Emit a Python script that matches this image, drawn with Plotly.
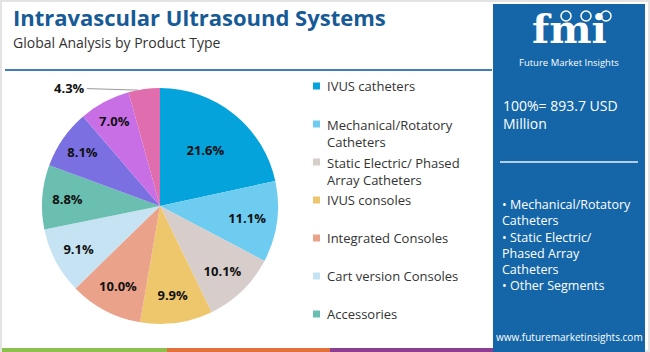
import math
import plotly.graph_objects as go

W, H = 650, 352

# ---- data ----
categories = ["IVUS catheters", "Mechanical/Rotatory Catheters", "Static Electric/ Phased Array Catheters",
              "IVUS consoles", "Integrated Consoles", "Cart version Consoles", "Accessories",
              "Segment 8", "Segment 9", "Segment 10"]
shares = [21.6, 11.1, 10.1, 9.9, 10.0, 9.1, 8.8, 8.1, 7.0, 4.3]
colors = ["#05A3DB", "#6DCCF0", "#D7CECC", "#EEC76C", "#EBA28A", "#C6E3F3", "#6ABFB1",
          "#7A70E1", "#C96FE6", "#E06EAE"]
legend_labels = ["IVUS catheters", "Mechanical/Rotatory<br>Catheters", "Static Electric/ Phased<br>Array Catheters",
                 "IVUS consoles", "Integrated Consoles", "Cart version Consoles", "Accessories"]
title = "Intravascular Ultrasound Systems"
subtitle = "Global Analysis by Product Type"
total_text = "100%= 893.7 USD<br>Million"
segments_text = ["• Mechanical/Rotatory", "Catheters", "• Static Electric/", "Phased Array", "Catheters",
                 "• Other Segments"]
url = "www.futuremarketinsights.com"

FONT = "Open Sans"

def px(x):
    return x / W

def py(y):
    return 1 - y / H

# pie geometry (pixels)
cx, cy, r = 160, 206, 118
dom_x = [px(cx - r), px(cx + r)]
dom_y = [py(cy + r), py(cy - r)]

n_out = len(shares) - 1
textpos = ["inside"] * n_out + ["none"]
texts = [f"{v:.1f}%" for v in shares]

fig = go.Figure(go.Pie(
    labels=categories, values=shares, text=texts, textinfo="text",
    textposition=textpos, insidetextorientation="horizontal",
    sort=False, direction="clockwise", rotation=0,
    marker=dict(colors=colors, line=dict(width=0)),
    textfont=dict(family=FONT, size=13, color="#111111", weight="bold"),
    domain=dict(x=dom_x, y=dom_y), showlegend=False, hoverinfo="label+percent",
))

shapes = []
annotations = []

# outer frame
shapes.append(dict(type="rect", xref="paper", yref="paper", x0=px(1), x1=px(649), y0=py(351), y1=py(1),
                   line=dict(color="#E3E3E3", width=2), fillcolor="rgba(0,0,0,0)", layer="below"))
# line under title
shapes.append(dict(type="line", xref="paper", yref="paper", x0=px(5), x1=px(492), y0=py(70), y1=py(70),
                   line=dict(color="#3F7FB6", width=2)))
# bottom color strips
for (a, b, c) in [(2, 167, "#8DC04F"), (167, 330, "#E2703A"), (330, 493, "#8C3E92")]:
    shapes.append(dict(type="rect", xref="paper", yref="paper", x0=px(a), x1=px(b), y0=py(352), y1=py(348),
                       line=dict(width=0), fillcolor=c))
# right blue panel
shapes.append(dict(type="rect", xref="paper", yref="paper", x0=px(493), x1=px(645), y0=py(352), y1=py(4),
                   line=dict(width=0), fillcolor="#1466A8"))
shapes.append(dict(type="line", xref="paper", yref="paper", x0=px(500), x1=px(638), y0=py(162), y1=py(162),
                   line=dict(color="#E8F0F7", width=1.5)))
# logo icons
for ix in [566, 586, 606]:
    shapes.append(dict(type="circle", xref="paper", yref="paper", x0=px(ix - 5), x1=px(ix + 5),
                       y0=py(21), y1=py(11), line=dict(color="white", width=1.5), fillcolor="#1466A8"))

# title texts
annotations.append(dict(text=f"<b>{title}</b>", x=px(11), y=py(16.5), xref="paper", yref="paper",
                        xanchor="left", yanchor="middle", showarrow=False,
                        font=dict(family=FONT, size=22, color="#165A96")))
annotations.append(dict(text=subtitle, x=px(11), y=py(42), xref="paper", yref="paper",
                        xanchor="left", yanchor="middle", showarrow=False,
                        font=dict(family=FONT, size=14, color="#333333")))

# manual legend
for i, lab in enumerate(legend_labels):
    y0 = 86 + 38 * i
    shapes.append(dict(type="rect", xref="paper", yref="paper", x0=px(313), x1=px(320),
                       y0=py(y0 + 3.5), y1=py(y0 - 3.5), line=dict(width=0), fillcolor=colors[i]))
    nlines = lab.count("<br>") + 1
    annotations.append(dict(text=lab, x=px(325), y=py(y0 + (nlines - 1) * 9.5), xref="paper", yref="paper",
                            xanchor="left", yanchor="middle", align="left", showarrow=False,
                            font=dict(family=FONT, size=13, color="#333333")))

# outside label for the smallest slice with leader line
cum = sum(shares[:-1]) + shares[-1] * 0.3
ang = 2 * math.pi * cum / sum(shares)
ex = cx + r * math.sin(ang)
ey = cy - r * math.cos(ang)
annotations.append(dict(text=f"<b>{texts[-1]}</b>", x=px(ex), y=py(ey), xref="paper", yref="paper",
                        ax=-68, ay=-2, showarrow=True, arrowhead=0, arrowwidth=1, arrowcolor="#9A9A9A",
                        font=dict(family=FONT, size=13, color="#111111")))

# right panel texts
annotations.append(dict(text="<b>fmi</b>", x=px(569), y=py(28), xref="paper", yref="paper",
                        xanchor="center", yanchor="middle", showarrow=False,
                        font=dict(family="DejaVu Serif", size=40, color="white")))
annotations.append(dict(text="Future Market Insights", x=px(569), y=py(63), xref="paper", yref="paper",
                        xanchor="center", yanchor="middle", showarrow=False,
                        font=dict(family=FONT, size=9.5, color="white")))
annotations.append(dict(text=total_text, x=px(501), y=py(114), xref="paper", yref="paper",
                        xanchor="left", yanchor="middle", align="left", showarrow=False,
                        font=dict(family=FONT, size=14, color="white")))
annotations.append(dict(text="<br>".join(segments_text), x=px(500), y=py(245), xref="paper", yref="paper",
                        xanchor="left", yanchor="middle", align="left", showarrow=False,
                        font=dict(family=FONT, size=12.5, color="white")))
annotations.append(dict(text=url, x=px(569), y=py(337), xref="paper", yref="paper",
                        xanchor="center", yanchor="middle", showarrow=False,
                        font=dict(family=FONT, size=10, color="white")))

fig.update_layout(width=W, height=H, margin=dict(l=0, r=0, t=0, b=0),
                  paper_bgcolor="white", plot_bgcolor="white",
                  shapes=shapes, annotations=annotations)

fig.write_html("out.html")
